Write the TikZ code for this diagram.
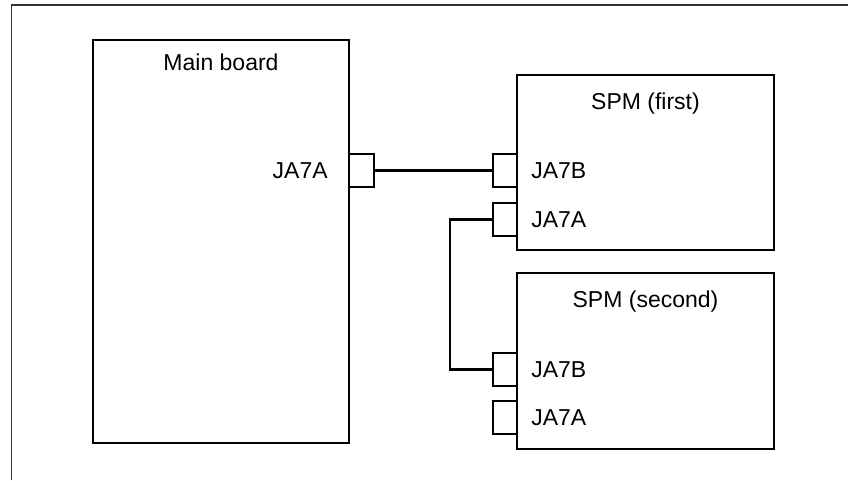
\documentclass[tikz,border=0pt]{standalone}
\usepackage{fontspec}
\setmainfont{Liberation Sans}
\begin{document}
\begin{tikzpicture}[x=1pt,y=-1pt,
        board/.style={draw, line width=2.2pt, inner sep=0pt, minimum width=257pt},
        socket/.style={draw, line width=2.2pt, fill=white, inner sep=0pt, minimum width=24pt, minimum height=33pt},
        wire/.style={line width=2.1pt},
        lab/.style={font=\fontsize{23}{27}\selectfont, inner sep=0pt}]
        \useasboundingbox (0,0) rectangle (848,480);
        \draw[line width=1.6pt, black!80] (11.5,480) -- (11.5,5) -- (848,5);
        % boards
        \node[board, minimum width=256pt, minimum height=403pt] (main) at (221,241.5) {};
        \node[board, minimum height=175pt] (spmA) at (645.5,162.5) {};
        \node[board, minimum height=176pt] (spmB) at (645.5,361) {};
        \node[lab, anchor=base] (maintitle) at (221,70) {Main board};
        \node[lab, anchor=base] (spmAtitle) at (645.5,109) {SPM (first)};
        \node[lab, anchor=base] (spmBtitle) at (645.5,307) {SPM (second)};
        % connectors
        \node[socket, minimum width=25pt] (mainja) at (361.5,170.5) {};
        \node[lab, anchor=east] (mainjalab) at ([xshift=-20pt]mainja.west) {JA7A};
        \foreach \nm / \y / \lab in {aja7b/170.5/JA7B, aja7a/219.5/JA7A, bja7b/369.5/JA7B, bja7a/417.5/JA7A}
        {
            \node[socket] (\nm) at (505,\y) {};
            \node[lab, anchor=west] (\nm lab) at ([xshift=13pt]\nm.east) {\lab};
        }
        % cables
        \draw[wire] (mainja.east) -- (aja7b.west);
        \draw[wire] (aja7a.west) -- ++(-42,0) |- (bja7b.west);
    \end{tikzpicture}
\end{document}
